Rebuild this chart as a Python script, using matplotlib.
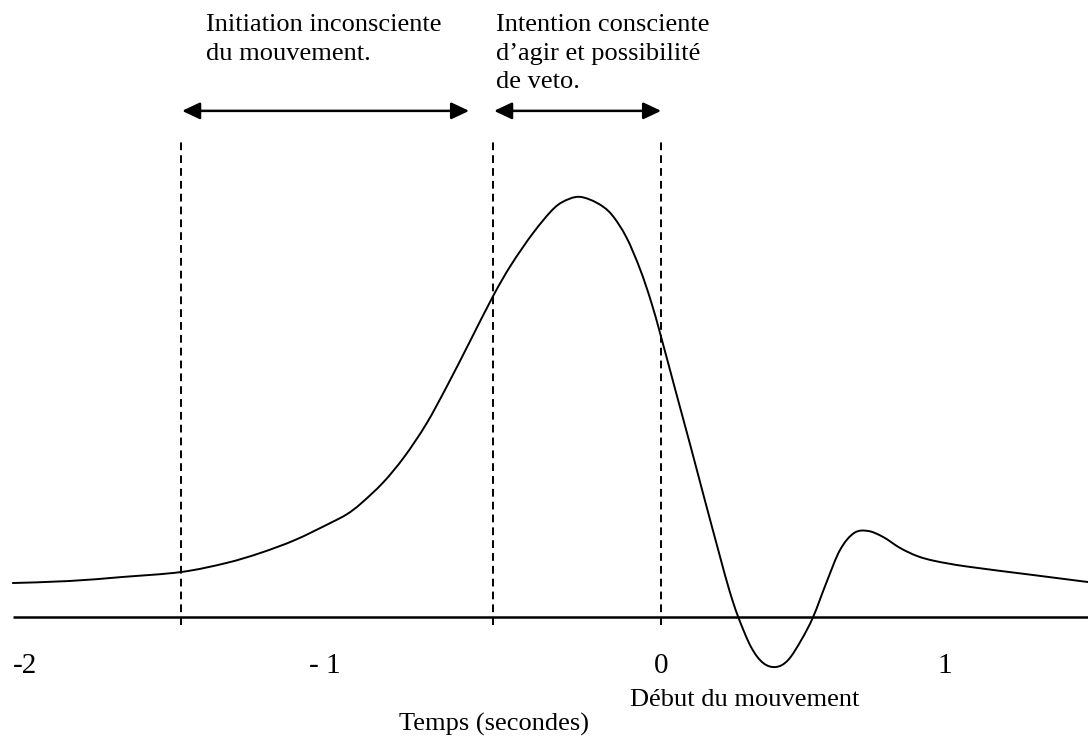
import numpy as np
import matplotlib
matplotlib.use("Agg")
import matplotlib.pyplot as plt
from matplotlib.path import Path
from matplotlib.patches import PathPatch

plt.rcParams['font.family'] = ['Liberation Serif', 'DejaVu Serif']

# Readiness potential trace (time in s, amplitude in arbitrary units, 0 = baseline)
time_s = [-2.028, -1.850, -1.684, -1.500, -1.359, -1.253, -1.144, -1.034,
          -0.981, -0.938, -0.869, -0.803, -0.734, -0.669, -0.600, -0.525,
          -0.469, -0.400, -0.334, -0.288, -0.250, -0.200, -0.156, -0.109,
          -0.066, -0.031, 0.000, 0.047, 0.091, 0.134, 0.181, 0.213, 0.241,
          0.281, 0.319, 0.359, 0.397, 0.438, 0.475, 0.516, 0.559, 0.603,
          0.647, 0.694, 0.747, 0.800, 0.856, 0.956, 1.163, 1.334]
amplitude = [0.811, 0.859, 0.955, 1.074, 1.289, 1.527, 1.838, 2.243,
             2.458, 2.709, 3.208, 3.819, 4.606, 5.513, 6.539, 7.661,
             8.401, 9.165, 9.761, 9.976, 10.024, 9.881, 9.618, 9.069,
             8.305, 7.518, 6.683, 5.346, 4.105, 2.864, 1.527, 0.644, 0.000,
             -0.716, -1.098, -1.193, -1.026, -0.549, 0.000, 0.811, 1.599, 2.005,
             2.053, 1.909, 1.647, 1.456, 1.337, 1.205, 1.002, 0.835]

# phase boundaries (dashed lines) and annotated intervals
markers_s = [-1.5, -0.525, 0.0]
phase_spans = [(-1.497, -0.600), (-0.522, 0.0)]
phase_texts = ["Initiation inconsciente\ndu mouvement.",
               "Intention consciente\nd\u2019agir et possibilit\u00e9\nde veto."]
phase_text_x = [-1.422, -0.516]

tick_labels = ["-2", "- 1", "0", "1"]
tick_pos = [-1.9875, -1.05, 0.0, 0.8875]


def smooth_path(xs, ys):
    # Catmull-Rom through the read points, drawn as cubic Bezier segments
    pts = np.column_stack([xs, ys])
    verts = [pts[0]]
    codes = [Path.MOVETO]
    n = len(pts)
    for i in range(n - 1):
        p0 = pts[max(i - 1, 0)]
        p1 = pts[i]
        p2 = pts[i + 1]
        p3 = pts[min(i + 2, n - 1)]
        c1 = p1 + (p2 - p0) / 6.0
        c2 = p2 - (p3 - p1) / 6.0
        verts += [c1, c2, p2]
        codes += [Path.CURVE4] * 3
    return Path(verts, codes)


fig = plt.figure(figsize=(10.88, 7.42), dpi=100)
ax = fig.add_axes([0, 0, 1, 1])
ax.set_xlim(-2.066, 1.334)
ax.set_ylim(-2.983, 14.726)
ax.axis('off')

# baseline
ax.plot([-2.025, 1.334], [0, 0], color='black', lw=1.8, solid_capstyle='butt')

# dashed markers
for xm in markers_s:
    ax.plot([xm, xm], [-0.19, 11.34], color='black', lw=1.4,
            linestyle=(0, (4, 2.6)))

# the curve
ax.add_patch(PathPatch(smooth_path(time_s, amplitude), facecolor='none',
                       edgecolor='black', lw=1.4))

# double arrows and phase texts
for (x0, x1), txt, tx in zip(phase_spans, phase_texts, phase_text_x):
    ax.annotate('', xy=(x1, 12.08), xytext=(x0, 12.08),
                arrowprops=dict(arrowstyle='<|-|>,head_length=0.72,head_width=0.34',
                                mutation_scale=15, lw=1.8, color='black',
                                shrinkA=0, shrinkB=0))
    ax.text(tx, 14.39, txt, ha='left', va='top', fontsize=19, linespacing=1.38)

# tick labels
for lab, xp in zip(tick_labels, tick_pos):
    ax.text(xp, -1.337, lab, ha='center', va='baseline', fontsize=21)

ax.text(0.261, -2.124, "D\u00e9but du mouvement", ha='center', va='baseline', fontsize=19)
ax.text(-0.522, -2.72, "Temps (secondes)", ha='center', va='baseline', fontsize=19)

fig.savefig("out.png", dpi=100)
